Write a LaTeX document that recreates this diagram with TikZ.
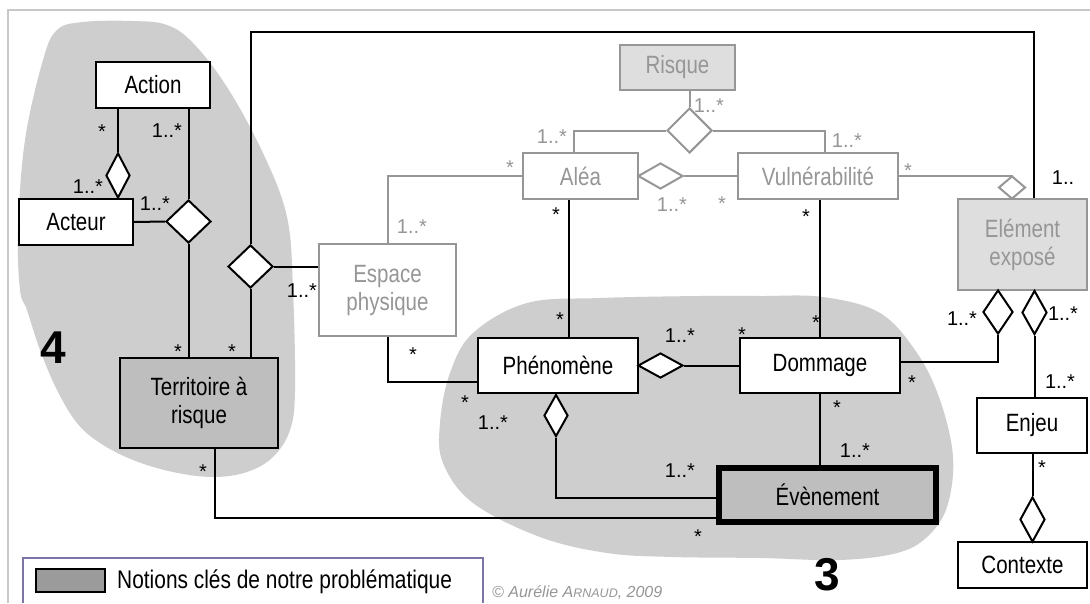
\documentclass[tikz,border=0pt]{standalone}
\usepackage{fontspec}
\setmainfont{Liberation Sans}
\newfontfamily\boxfont[FakeStretch=0.82]{Liberation Sans}
\usepackage{tikz}
\usepackage{xcolor}
\usetikzlibrary{shapes.geometric}
\definecolor{faded}{RGB}{150,150,150}
\definecolor{faded_fill}{RGB}{222,222,222}
\definecolor{key_notion}{RGB}{190,190,190}
\definecolor{zone}{RGB}{206,206,206}
\definecolor{swatch}{RGB}{155,155,155}
\definecolor{legend_frame}{RGB}{125,115,165}
\definecolor{frame_line}{RGB}{200,200,200}
\definecolor{credit}{RGB}{150,150,150}

\begin{document}
\begin{tikzpicture}[x=1pt, y=-1pt,
    every node/.style={font=\fontsize{20}{24}\selectfont},
    class_box/.style={draw, line width=2pt, fill=white, inner sep=0pt, align=center,
      font=\boxfont\fontsize{25}{28}\selectfont},
    faded_box/.style={class_box, draw=faded, text=faded},
    key_box/.style={class_box, fill=key_notion},
    agg/.style={diamond, draw, line width=2pt, fill=white, inner sep=0pt},
    faded_agg/.style={agg, draw=faded},
    link/.style={line width=2pt},
    faded_link/.style={link, draw=faded},
    mult/.style={anchor=base, inner sep=0pt},
    faded_mult/.style={mult, text=faded},
    big_num/.style={anchor=base, inner sep=0pt, font=\fontsize{46}{50}\selectfont\bfseries}
  ]
  \useasboundingbox (0,0) rectangle (1090,603);
  \fill[white] (0,0) rectangle (1090,603);

  % zones 4 et 3
  \fill[zone] plot[smooth cycle, tension=0.6] coordinates {(83,22) (133,21) (167,25) (193,43) (227,87)
    (263,153) (287,217) (293,290) (295,390) (290,430) (273,457) (247,472) (213,477) (173,472)
    (133,460) (100,443) (77,423) (57,390) (40,350) (27,310) (20,290) (18,230) (25,140) (43,60) (57,30)};
  \fill[zone] plot[smooth cycle, tension=0.6] coordinates {(527,303) (600,298) (700,296) (760,296)
    (823,297) (880,313) (917,353) (940,400) (953,457) (947,507) (927,537) (897,553) (840,560)
    (760,558) (673,557) (607,553) (540,537) (473,503) (443,463) (440,423) (450,373) (473,333)};
  \draw[frame_line, line width=1.5pt] (8,603) |- (1090,10);

  % classes
  \node[class_box, minimum width=114pt, minimum height=46pt] (action) at (153,85) {Action};
  \node[class_box, minimum width=114pt, minimum height=46pt] (acteur) at (76,222) {Acteur};
  \node[faded_box, fill=faded_fill, minimum width=115pt, minimum height=45pt] (risque) at (677.5,67.5) {Risque};
  \node[faded_box, minimum width=115pt, minimum height=46pt] (alea) at (580.5,176) {Aléa};
  \node[faded_box, minimum width=160pt, minimum height=46pt] (vulner) at (818,176) {Vulnérabilité};
  \node[faded_box, fill=faded_fill, minimum width=129pt, minimum height=91pt] (expose) at (1022.5,244.5) {Elément\\exposé};
  \node[faded_box, minimum width=137pt, minimum height=92pt] (espace) at (387.5,290) {Espace\\physique};
  \node[key_box, minimum width=158pt, minimum height=90pt] (territoire) at (199,403) {Territoire à\\risque};
  \node[class_box, minimum width=160pt, minimum height=55pt] (phenomene) at (558,365.5) {Phénomène};
  \node[class_box, minimum width=160pt, minimum height=55pt] (dommage) at (820,365.5) {Dommage};
  \node[key_box, line width=6pt, minimum width=217pt, minimum height=54pt] (evenement) at (827.5,495) {Évènement};
  \node[class_box, minimum width=110pt, minimum height=55pt] (enjeu) at (1032,425.5) {Enjeu};
  \node[class_box, minimum width=129pt, minimum height=46pt] (contexte) at (1022.5,565) {Contexte};

  % agregations
  \node[agg, minimum width=24pt, minimum height=45pt] (d_acteur) at (118,175.5) {};
  \node[agg, minimum width=45pt, minimum height=43pt] (d_territoire) at (188.5,221.5) {};
  \node[agg, minimum width=45pt, minimum height=43pt] (d_espace) at (250.5,266.5) {};
  \node[faded_agg, minimum width=45pt, minimum height=45pt] (d_risque) at (689.5,130.5) {};
  \node[faded_agg, minimum width=45pt, minimum height=26pt] (d_alea) at (660.5,176) {};
  \node[faded_agg, minimum width=27pt, minimum height=23pt] (d_expose) at (1012,187.5) {};
  \node[agg, minimum width=45pt, minimum height=25pt] (d_phen) at (660.5,365.5) {};
  \node[agg, minimum width=24pt, minimum height=42pt] (d_evt) at (556,415.5) {};
  \node[agg, minimum width=30pt, minimum height=44pt] (d_dommage) at (998,312) {};
  \node[agg, minimum width=25pt, minimum height=44pt] (d_enjeu) at (1034.5,312.5) {};
  \node[agg, minimum width=25pt, minimum height=45pt] (d_contexte) at (1032.5,519.5) {};

  % liens
  \coordinate (top_bend) at (1034,32);
  \draw[link] (d_acteur.north) -- (d_acteur.north |- action.south);
  \draw[link] (d_territoire.north) -- (d_territoire.north |- action.south);
  \draw[link] (acteur.east) -- (d_territoire.west);
  \draw[link] (d_territoire.south) -- (d_territoire.south |- territoire.north);
  \draw[link] (d_espace.north) |- (top_bend) -- (top_bend |- expose.north);
  \draw[link] (d_espace.south) -- (d_espace.south |- territoire.north);
  \draw[link] (d_espace.east) -- (d_espace.east -| espace.west);
  \draw[faded_link] (espace.north) |- (alea.west);
  \draw[link] (espace.south) |- ([yshift=-16pt]phenomene.west);
  \draw[link] ([xshift=-11.5pt]alea.south) -- ([xshift=-11.5pt]alea.south |- phenomene.north);
  \draw[faded_link] (d_risque.north) -- (d_risque.north |- risque.south);
  \draw[faded_link] (d_risque.west) -| ([xshift=-6.5pt]alea.north);
  \draw[faded_link] (d_risque.east) -| ([xshift=7pt]vulner.north);
  \draw[faded_link] (d_alea.east) -- (vulner.west);
  \draw[faded_link] (vulner.east) -| (d_expose.north);
  \draw[link] ([xshift=2pt]vulner.south) -- ([xshift=2pt]vulner.south |- dommage.north);
  \draw[link] (d_phen.east) -- (dommage.west);
  \draw[link] (d_evt.south) |- ([yshift=-3pt]evenement.west);
  \draw[link] ([xshift=16pt]territoire.south) |- ([yshift=-23pt]evenement.west);
  \draw[link] (dommage.south) -- (dommage.south |- evenement.north);
  \draw[link] (d_dommage.south) |- ([yshift=3.5pt]dommage.east);
  \draw[link] (d_enjeu.south) -- (d_enjeu.south |- enjeu.north);
  \draw[link] (d_contexte.north) -- (d_contexte.north |- enjeu.south);

  % multiplicites
  \node[mult] (m1) at (102,138) {*};
  \node[mult] (m2) at (88,193) {1..*};
  \node[mult] (m3) at (167,137) {1..*};
  \node[mult] (m4) at (155,210) {1..*};
  \node[mult] (m5) at (178,358) {*};
  \node[mult] (m6) at (232,358) {*};
  \node[mult] (m7) at (302,297) {1..*};
  \node[mult] (m8) at (1063,184) {1..};
  \node[mult] (m9) at (413,361) {*};
  \node[mult] (m10) at (465,409) {*};
  \node[mult] (m11) at (556,221) {*};
  \node[mult] (m12) at (560,326) {*};
  \node[mult] (m13) at (806,223) {*};
  \node[mult] (m14) at (816,329) {*};
  \node[mult] (m15) at (680,342) {1..*};
  \node[mult] (m16) at (742,341) {*};
  \node[mult] (m17) at (493,429) {1..*};
  \node[mult] (m18) at (680,477) {1..*};
  \node[mult] (m19) at (203,478) {*};
  \node[mult] (m20) at (698,543) {*};
  \node[mult] (m21) at (837,414) {*};
  \node[mult] (m22) at (855,457) {1..*};
  \node[mult] (m23) at (962,325) {1..*};
  \node[mult] (m24) at (912,389) {*};
  \node[mult] (m25) at (1063,320) {1..*};
  \node[mult] (m26) at (1060,388) {1..*};
  \node[mult] (m27) at (1042,474) {*};
  \node[faded_mult] (m28) at (412,233) {1..*};
  \node[faded_mult] (m29) at (510,174) {*};
  \node[faded_mult] (m30) at (672,211) {1..*};
  \node[faded_mult] (m31) at (722,210) {*};
  \node[faded_mult] (m32) at (709,112) {1..*};
  \node[faded_mult] (m33) at (552,143) {1..*};
  \node[faded_mult] (m34) at (847,147) {1..*};
  \node[faded_mult] (m35) at (908,177) {*};

  % numeros de zones
  \node[big_num] (zone_four) at (53.5,363) {4};
  \node[big_num] (zone_three) at (827.5,590) {3};

  % legende
  \draw[legend_frame, line width=1.5pt] (23,603) |- (483,558) -- (483,603);
  \node[draw, line width=1.5pt, fill=swatch, inner sep=0pt, minimum width=69pt, minimum height=23pt] (swatch_box) at (70.5,580.5) {};
  \node[anchor=base west, inner sep=0pt, font=\boxfont\fontsize{25.5}{28}\selectfont] (legend_text) at (117,588) {Notions clés de notre problématique};
  \node[anchor=base west, inner sep=0pt, text=credit, font=\fontsize{16}{18}\selectfont\itshape] (credit_text) at (492,597) {© Aurélie A{\fontsize{12.5}{14}\selectfont RNAUD}, 2009};
\end{tikzpicture}
\end{document}
